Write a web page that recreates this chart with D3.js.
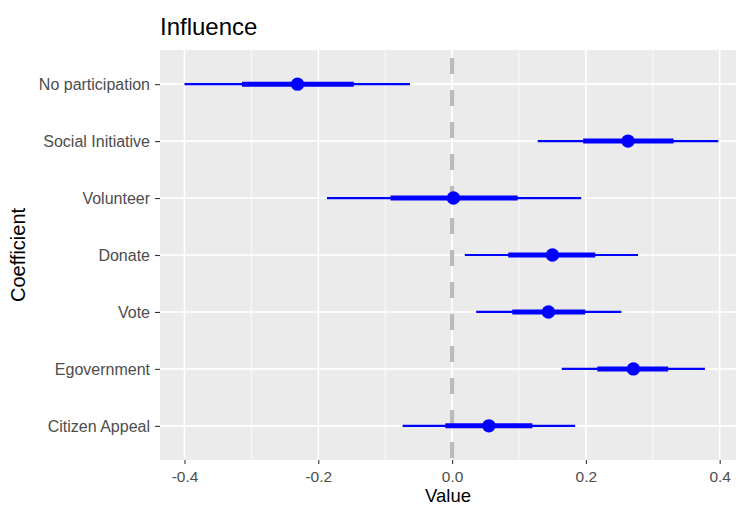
<!DOCTYPE html>
<html>
<head>
<meta charset="utf-8">
<script src="https://cdn.jsdelivr.net/npm/d3@7"></script>
<style>
  html, body { margin: 0; padding: 0; background: #fff; }
  svg { display: block; font-family: "Liberation Sans", Arial, Helvetica, sans-serif; }
</style>
</head>
<body>
<svg id="chart" width="736" height="506"></svg>
<script>
// Coefficient estimates with inner (thick) and outer (thin) intervals
const coefficients = ["No participation", "Social Initiative", "Volunteer", "Donate", "Vote", "Egovernment", "Citizen Appeal"];
const estimate = [-0.231, 0.263, 0.002, 0.150, 0.144, 0.271, 0.055];
const innerLow  = [-0.314, 0.196, -0.092, 0.084, 0.090, 0.217, -0.010];
const innerHigh = [-0.147, 0.331, 0.098, 0.214, 0.199, 0.323, 0.120];
const outerLow  = [-0.400, 0.128, -0.187, 0.019, 0.036, 0.164, -0.074];
const outerHigh = [-0.063, 0.398, 0.193, 0.278, 0.253, 0.378, 0.184];
const xTicks = [-0.4, -0.2, 0.0, 0.2, 0.4];
const xMinor = [-0.3, -0.1, 0.1, 0.3];

const rows = coefficients.map((name, i) => ({
  name, est: estimate[i], lo1: innerLow[i], hi1: innerHigh[i], lo2: outerLow[i], hi2: outerHigh[i]
}));

const svg = d3.select("#chart");
const panel = { left: 160, right: 736, top: 50, bottom: 460 };

const x = d3.scaleLinear().domain([-0.4366, 0.4244]).range([panel.left, panel.right]);
const y = d3.scalePoint().domain(coefficients).range([panel.top, panel.bottom]).padding(0.6);

// panel background
svg.append("rect")
  .attr("x", panel.left).attr("y", panel.top)
  .attr("width", panel.right - panel.left).attr("height", panel.bottom - panel.top)
  .attr("fill", "#ebebeb");

const grid = svg.append("g");
grid.selectAll(".minor").data(xMinor).join("line")
  .attr("x1", d => x(d)).attr("x2", d => x(d))
  .attr("y1", panel.top).attr("y2", panel.bottom)
  .attr("stroke", "#fff").attr("stroke-width", 0.8);
grid.selectAll(".majorx").data(xTicks).join("line")
  .attr("x1", d => x(d)).attr("x2", d => x(d))
  .attr("y1", panel.top).attr("y2", panel.bottom)
  .attr("stroke", "#fff").attr("stroke-width", 1.6);
grid.selectAll(".majory").data(coefficients).join("line")
  .attr("x1", panel.left).attr("x2", panel.right)
  .attr("y1", d => y(d)).attr("y2", d => y(d))
  .attr("stroke", "#fff").attr("stroke-width", 1.6);

// reference line at zero
svg.append("line")
  .attr("x1", x(0)).attr("x2", x(0))
  .attr("y1", panel.top).attr("y2", panel.bottom)
  .attr("stroke", "#a6a6a6").attr("stroke-opacity", 0.75)
  .attr("stroke-width", 4).attr("stroke-dasharray", "16,16")
  .attr("stroke-dashoffset", -8);

const marks = svg.append("g");
marks.selectAll(".outer").data(rows).join("line")
  .attr("x1", d => x(d.lo2)).attr("x2", d => x(d.hi2))
  .attr("y1", d => y(d.name)).attr("y2", d => y(d.name))
  .attr("stroke", "#0000ff").attr("stroke-width", 2.2);
marks.selectAll(".inner").data(rows).join("line")
  .attr("x1", d => x(d.lo1)).attr("x2", d => x(d.hi1))
  .attr("y1", d => y(d.name)).attr("y2", d => y(d.name))
  .attr("stroke", "#0000ff").attr("stroke-width", 5);
marks.selectAll("circle").data(rows).join("circle")
  .attr("cx", d => x(d.est)).attr("cy", d => y(d.name))
  .attr("r", 6.7).attr("fill", "#0000ff");

// x axis (plain hyphen for negatives)
const fmt = d => d.toFixed(1);
const xAxis = svg.append("g").attr("transform", `translate(0,${panel.bottom})`)
  .call(d3.axisBottom(x).tickValues(xTicks).tickFormat(fmt).tickSize(4).tickPadding(5));
xAxis.select(".domain").remove();
xAxis.selectAll(".tick line").attr("stroke", "#333").attr("stroke-width", 1.1);
xAxis.selectAll(".tick text").attr("fill", "#4d4d4d").attr("font-size", 15.5)
  .attr("dy", null).attr("y", 21.5).style("font-family", "inherit");

// y axis
const yAxis = svg.append("g").attr("transform", `translate(${panel.left},0)`)
  .call(d3.axisLeft(y).tickSize(5).tickPadding(5));
yAxis.select(".domain").remove();
yAxis.selectAll(".tick line").attr("stroke", "#333").attr("stroke-width", 1.1);
yAxis.selectAll(".tick text").attr("fill", "#4d4d4d").attr("font-size", 16)
  .attr("dy", "0.36em").style("font-family", "inherit");

// titles
svg.append("text").attr("x", panel.left).attr("y", 35)
  .attr("font-size", 24).attr("fill", "#000").text("Influence");
svg.append("text").attr("x", (panel.left + panel.right) / 2).attr("y", 502)
  .attr("text-anchor", "middle").attr("font-size", 18.5).attr("fill", "#000").text("Value");
svg.append("text")
  .attr("transform", `translate(25,${(panel.top + panel.bottom) / 2}) rotate(-90)`)
  .attr("text-anchor", "middle").attr("font-size", 20).attr("fill", "#000").text("Coefficient");
</script>
</body>
</html>
